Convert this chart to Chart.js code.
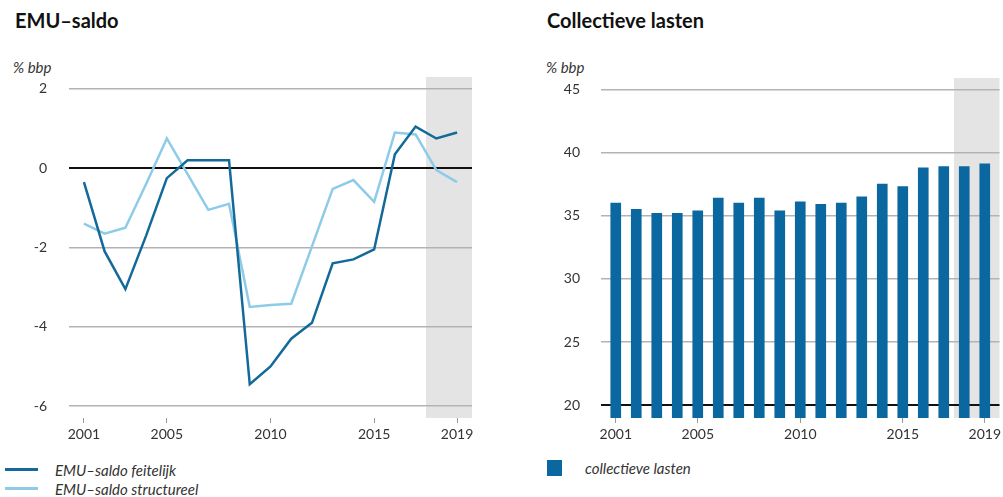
<!DOCTYPE html>
<html>
<head>
<meta charset="utf-8">
<script src="https://cdn.jsdelivr.net/npm/chart.js@4.4.1/dist/chart.umd.min.js"></script>
<style>
   html, body { margin: 0; padding: 0; background: #fff; }
   body { width: 1003px; height: 497px; overflow: hidden; position: relative; font-family: Lato, 'Open Sans', sans-serif; color: #222; }
   canvas { position: absolute; top: 0; }
   .title { position: absolute; top: 8px; font-weight: bold; font-size: 20px; color: #111; }
   .unit { position: absolute; top: 58px; font-style: italic; font-size: 15px; color: #333; }
   .legend { position: absolute; font-style: italic; font-size: 15px; color: #333; }
   .legend div { height: 19px; display: flex; align-items: center; }
   .legend .swatch { display: inline-block; margin-right: 17px; }
</style>
</head>
<body>
<div class="title" style="left:15px">EMU–saldo</div>
<div class="unit" style="left:13px">% bbp</div>
<div class="title" style="left:547px">Collectieve lasten</div>
<div class="unit" style="left:546px">% bbp</div>
<canvas id="emuChart" width="490" height="450" style="left:0"></canvas>
<canvas id="lastenChart" width="474" height="450" style="left:530px"></canvas>
<div class="legend" id="emuLegend" style="left:5px;top:460px"></div>
<div class="legend" id="lastenLegend" style="left:547px;top:458px"></div>
<script>
const years = [2001, 2002, 2003, 2004, 2005, 2006, 2007, 2008, 2009, 2010, 2011, 2012, 2013, 2014, 2015, 2016, 2017, 2018, 2019];
const emuFeitelijk = [-0.35, -2.1, -3.05, -1.7, -0.25, 0.2, 0.2, 0.2, -5.45, -5.0, -4.3, -3.9, -2.4, -2.3, -2.05, 0.35, 1.05, 0.75, 0.9];
const emuStructureel = [-1.4, -1.65, -1.5, -0.4, 0.75, -0.15, -1.05, -0.9, -3.5, -3.45, -3.42, -1.97, -0.52, -0.3, -0.85, 0.9, 0.85, -0.05, -0.35];
const collectieveLasten = [36.0, 35.5, 35.2, 35.2, 35.4, 36.4, 36.0, 36.4, 35.4, 36.1, 35.9, 36.0, 36.5, 37.5, 37.3, 38.8, 38.9, 38.9, 39.1];
const yearTicks = [2001, 2005, 2010, 2015, 2019];
const emuTicks = [-6, -4, -2, 0, 2];
const lastenTicks = [20, 25, 30, 35, 40, 45];
const ramingVanaf = 2017.5; // grey band for the forecast years

const DARK = '#136a9a';
const LIGHT = '#8ecbe8';
const GRID = '#b3b3b3';
const TEXT = '#333';
const FONT = { family: 'Lato', size: 14 };

// grey band behind the grid for the forecast years
const ramingBand = {
   id: 'ramingBand',
   beforeDraw(chart) {
      const { ctx, chartArea, scales } = chart;
      const x0 = scales.x.getPixelForValue(ramingVanaf);
      ctx.save();
      ctx.fillStyle = '#e4e4e4';
      ctx.fillRect(x0, chartArea.top, chartArea.right - x0, chartArea.bottom - chartArea.top);
      ctx.restore();
   }
};

function xScale() {
   return {
      type: 'linear',
      min: 2000.28,
      max: 2019.72,
      offset: false,
      afterBuildTicks: s => { s.ticks = yearTicks.map(v => ({ value: v })); },
      afterFit: s => { s.height = 32; },
      border: { display: false },
      grid: { offset: false, drawOnChartArea: false, drawTicks: true, tickLength: 5, color: '#999', lineWidth: 1 },
      ticks: { color: TEXT, font: FONT, padding: 3, maxRotation: 0, callback: v => String(v) }
   };
}

function yScale(min, max, ticks, baseValue, width, pad) {
   return {
      min: min,
      max: max,
      afterBuildTicks: s => { s.ticks = ticks.map(v => ({ value: v })); },
      afterFit: s => { s.width = width; },
      border: { display: false },
      grid: {
         drawTicks: false,
         color: c => c.tick && c.tick.value === baseValue ? '#111' : GRID,
         lineWidth: c => c.tick && c.tick.value === baseValue ? 2 : 1.5
      },
      ticks: { color: TEXT, font: FONT, padding: pad, callback: v => String(v) }
   };
}

const emuChart = new Chart(document.getElementById('emuChart'), {
   type: 'line',
   data: {
      datasets: [
         {
            label: 'EMU–saldo feitelijk',
            data: years.map((y, i) => ({ x: y, y: emuFeitelijk[i] })),
            borderColor: DARK,
            borderWidth: 2.5,
            pointRadius: 0,
            tension: 0,
            order: 1
         },
         {
            label: 'EMU–saldo structureel',
            data: years.map((y, i) => ({ x: y, y: emuStructureel[i] })),
            borderColor: LIGHT,
            borderWidth: 2.5,
            pointRadius: 0,
            tension: 0,
            order: 2
         }
      ]
   },
   options: {
      responsive: false,
      animation: false,
      layout: { padding: { top: 77, right: 18, left: 0, bottom: 0 } },
      plugins: { legend: { display: false }, tooltip: { enabled: false } },
      scales: {
         x: xScale(),
         y: yScale(-6.3, 2.3, emuTicks, 0, 69, 22)
      }
   },
   plugins: [ramingBand]
});

const lastenChart = new Chart(document.getElementById('lastenChart'), {
   type: 'bar',
   data: {
      datasets: [
         {
            label: 'collectieve lasten',
            data: years.map((y, i) => ({ x: y, y: collectieveLasten[i] })),
            backgroundColor: '#0a67a0',
            base: 19,
            barThickness: 10
         }
      ]
   },
   options: {
      responsive: false,
      animation: false,
      layout: { padding: { top: 78, right: 0, left: 0, bottom: 0 } },
      plugins: { legend: { display: false }, tooltip: { enabled: false } },
      scales: {
         x: xScale(),
         y: yScale(19, 45.9, lastenTicks, 20, 71, 21)
      }
   },
   plugins: [ramingBand]
});

// simple html legends built from the datasets
function buildLegend(chart, el, bar) {
   chart.data.datasets.forEach(ds => {
      const row = document.createElement('div');
      const sw = document.createElement('span');
      sw.className = 'swatch';
      if (bar) {
         sw.style.cssText = 'width:15px;height:16px;margin-right:23px;background:' + ds.backgroundColor;
      } else {
         sw.style.cssText = 'width:33px;height:3px;background:' + ds.borderColor;
      }
      row.appendChild(sw);
      row.appendChild(document.createTextNode(ds.label));
      el.appendChild(row);
   });
}
buildLegend(emuChart, document.getElementById('emuLegend'), false);
buildLegend(lastenChart, document.getElementById('lastenLegend'), true);
</script>
</body>
</html>
